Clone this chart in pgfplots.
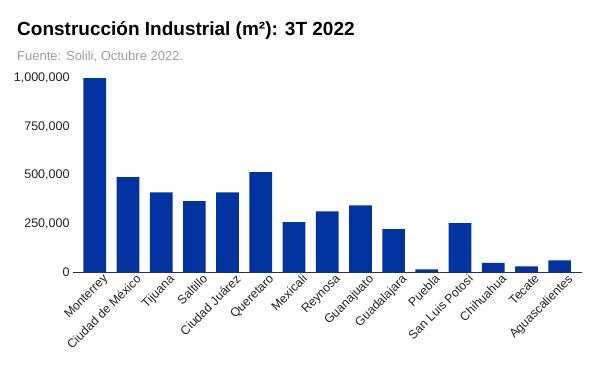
\documentclass[border=0pt]{standalone}
\usepackage{pgfplots}
\pgfplotsset{compat=1.18}
\usepackage{fontspec}
\setmainfont{Liberation Sans}
\definecolor{barblue}{RGB}{0,51,160}
\definecolor{subgray}{RGB}{158,158,158}
\definecolor{txt}{RGB}{34,34,34}
\definecolor{axisc}{RGB}{51,51,51}
\pgfplotstableread{
x val
0 1000000
1 490000
2 412000
3 366000
4 412000
5 515000
6 258000
7 314000
8 345000
9 222000
10 15000
11 253000
12 48000
13 31000
14 62000
}\datatable
\begin{document}
\begin{tikzpicture}[x=1pt,y=1pt]
\path[use as bounding box] (0,0) rectangle (600,-371);
\node[anchor=base west, inner sep=0pt, text=black] at (17,-35.7) {\fontsize{19}{22}\selectfont\bfseries Construcción Industrial (m²): 3T 2022};
\node[anchor=base west, inner sep=0pt, text=subgray] at (17,-60.5) {\fontsize{13}{15}\selectfont Fuente: Solili, Octubre 2022.};
\begin{axis}[
  at={(72.7pt,-272.3pt)}, anchor=south west,
  scale only axis, width=509pt, height=204pt,
  xmin=-0.665, xmax=14.665, ymin=0, ymax=1050000,
  axis x line*=bottom, axis y line*=left,
  y axis line style={draw=none},
  x axis line style={draw=axisc, line width=0.8pt},
  major tick length=0pt,
  xtick=data,
  xticklabels={Monterrey,Ciudad de México,Tijuana,Saltillo,Ciudad Juárez,Queretaro,Mexicali,Reynosa,Guanajuato,Guadalajara,Puebla,San Luis Potosi,Chihuahua,Tecate,Aguascalientes},
  ytick={0,250000,500000,750000,1000000},
  scaled y ticks=false,
  /pgf/number format/assume math mode=true,
  yticklabel={\pgfmathprintnumber[fixed,1000 sep={,}]{\tick}},
  yticklabel style={font=\fontsize{12.5}{14}\selectfont, text=txt, inner xsep=0pt, xshift=-3pt},
  xticklabel style={font=\fontsize{12.3}{14}\selectfont, text=txt, rotate=45, anchor=north east, inner sep=0pt, xshift=4.5pt, yshift=-6pt},
  clip=false,
]
\addplot[ybar, bar width=22.7pt, fill=barblue, draw=none] table[x=x, y=val] {\datatable};
\end{axis}
\end{tikzpicture}
\end{document}
